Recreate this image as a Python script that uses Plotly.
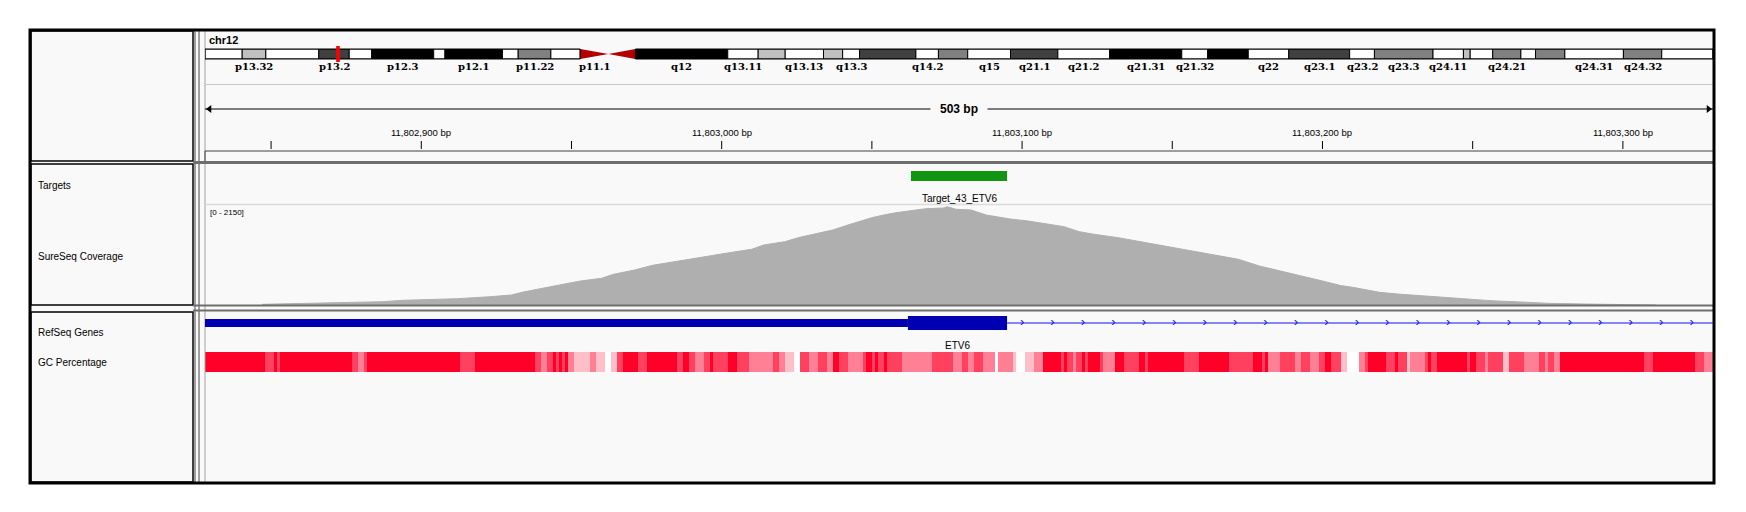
import numpy as np
import plotly.graph_objects as go

W, H = 1746, 512
# the page body keeps an 8 px margin round the figure
OFF = 8
FW, FH = W - 2 * OFF, H - 2 * OFF

# view window on chr12 (bp)
VIEW_START, VIEW_END = 11802828, 11803330
CHR_LEN = 133.851895  # Mb

# ── cytobands chr12 (Mb) ─────────────────────────────
BAND_START = [0, 3.3, 5.4, 10.1, 12.8, 14.8, 20.3, 21.3, 26.4, 27.8, 30.7, 33.3, 35.8,
              38.2, 46.4, 49.1, 51.5, 54.9, 56.6, 58.1, 63.1, 65.1, 67.7, 71.5, 75.7,
              80.3, 86.7, 89.0, 92.6, 96.2, 101.6, 103.8, 109.0, 111.7, 112.3, 114.3,
              116.8, 118.1, 120.7, 125.9, 129.3]
BAND_NAME = ["p13.33", "p13.32", "p13.31", "p13.2", "p13.1", "p12.3", "p12.2", "p12.1",
             "p11.23", "p11.22", "p11.21", "p11.1", "q11", "q12", "q13.11", "q13.12",
             "q13.13", "q13.2", "q13.3", "q14.1", "q14.2", "q14.3", "q15", "q21.1",
             "q21.2", "q21.31", "q21.32", "q21.33", "q22", "q23.1", "q23.2", "q23.3",
             "q24.11", "q24.12", "q24.13", "q24.21", "q24.22", "q24.23", "q24.31",
             "q24.32", "q24.33"]
BAND_STAIN = ["gneg", "gpos25", "gneg", "gpos75", "gneg", "gpos100", "gneg", "gpos100",
              "gneg", "gpos50", "gneg", "acen", "acen", "gpos100", "gneg", "gpos25",
              "gneg", "gpos25", "gneg", "gpos75", "gneg", "gpos50", "gneg", "gpos75",
              "gneg", "gpos100", "gneg", "gpos100", "gneg", "gpos75", "gneg", "gpos50",
              "gneg", "gpos25", "gneg", "gpos50", "gneg", "gpos50", "gneg", "gpos50",
              "gneg"]
SHOWN_LABELS = ["p13.32", "p13.2", "p12.3", "p12.1", "p11.22", "p11.1", "q12", "q13.11",
                "q13.13", "q13.3", "q14.2", "q15", "q21.1", "q21.2", "q21.31", "q21.32",
                "q22", "q23.1", "q23.2", "q23.3", "q24.11", "q24.21", "q24.31", "q24.32"]

# ── features ─────────────────────────────────────────
TARGET_NAME = "Target_43_ETV6"
TARGET_START, TARGET_END = 11803063, 11803095
GENE_NAME = "ETV6"
GENE_START, GENE_END = 11802700, 11803500
EXON_START, EXON_END = 11803062, 11803095

# ── coverage (offset from view start in bp, depth) ───
COV_MAX = 2150
COV_OFFSET = [19, 45, 59, 66, 77, 84, 95, 102, 106, 113,
              118, 125, 132, 136, 143, 149, 156, 163, 169, 176,
              182, 186, 193, 198, 204, 209, 214, 218, 222, 226,
              230, 235, 240, 246, 247, 250, 255, 260, 268, 274,
              279, 286, 291, 296, 304, 310, 316, 324, 330, 336,
              344, 351, 357, 365, 372, 378, 382, 391, 397, 405,
              410, 418, 428, 438, 447, 459, 483]
COV_DEPTH = [15, 43, 70, 100, 121, 134, 177, 213, 277, 356,
             426, 511, 568, 654, 745, 845, 922, 994, 1065, 1128,
             1186, 1277, 1348, 1441, 1526, 1597, 1703, 1788, 1859, 1916,
             1965, 2008, 2050, 2065, 2093, 2037, 2023, 1916, 1831, 1788,
             1739, 1667, 1561, 1505, 1433, 1363, 1292, 1207, 1135, 1065,
             973, 830, 745, 617, 511, 415, 377, 270, 234, 198,
             164, 128, 92, 64, 36, 21, 0]

# ── GC percentage shade (segment start offset, level 0..4) ──
GC_START = [0, 20, 23, 24, 25, 49, 51, 53, 54, 85,
            90, 110, 112, 114, 116, 117, 118, 119, 120, 121,
            123, 128, 130, 133, 135, 137, 139, 144, 147, 157,
            159, 161, 163, 166, 168, 169, 174, 177, 181, 189,
            191, 193, 196, 198, 201, 204, 207, 209, 211, 214,
            219, 220, 222, 223, 224, 226, 227, 232, 242, 249,
            252, 254, 256, 259, 263, 264, 269, 270, 273, 276,
            279, 285, 286, 287, 289, 290, 292, 293, 294, 298,
            299, 303, 306, 311, 313, 314, 326, 331, 341, 349,
            352, 353, 354, 358, 363, 365, 368, 371, 373, 375,
            378, 380, 384, 386, 387, 393, 396, 397, 400, 401,
            406, 407, 408, 410, 420, 421, 423, 426, 427, 432,
            434, 439, 444, 446, 447, 449, 451, 479, 482, 496,
            499]
GC_SHADE = [4, 3, 4, 3, 4, 3, 2, 3, 4, 3,
            4, 3, 2, 3, 4, 3, 4, 3, 4, 2,
            1, 2, 1, 0, 1, 3, 4, 3, 4, 3,
            4, 3, 2, 3, 4, 3, 4, 3, 2, 3,
            2, 1, 0, 3, 2, 3, 2, 4, 3, 2,
            3, 4, 3, 4, 3, 4, 3, 2, 3, 2,
            3, 2, 3, 2, 0, 2, 1, 0, 1, 2,
            4, 3, 4, 3, 2, 3, 4, 3, 4, 3,
            2, 4, 3, 4, 3, 4, 3, 4, 3, 4,
            3, 4, 2, 3, 2, 3, 2, 3, 4, 3,
            1, 0, 2, 3, 4, 3, 4, 3, 1, 2,
            3, 4, 3, 4, 3, 4, 3, 2, 3, 1,
            3, 2, 3, 2, 3, 2, 4, 3, 4, 3,
            2]

TRACK_NAMES = ["Targets", "SureSeq Coverage", "RefSeq Genes", "GC Percentage"]

STAIN_COLOR = {"gneg": "#FFFFFF", "gpos25": "#C0C0C0", "gpos50": "#808080",
               "gpos75": "#404040", "gpos100": "#000000"}
FONT = "Liberation Sans"

DX0, DX1 = 205, 1713  # data panel, screen px


def px(x):
    return (x - OFF) / FW


def py(y):
    return 1 - (y - OFF) / FH


fig = go.Figure()

# ── ideogram ─────────────────────────────────────────
band_end = BAND_START[1:] + [CHR_LEN]
idx = [i for i, s in enumerate(BAND_STAIN) if s != "acen"]
fig.add_trace(go.Bar(
    y=[0] * len(idx),
    x=[band_end[i] - BAND_START[i] for i in idx],
    base=[BAND_START[i] for i in idx],
    orientation="h", width=1, xaxis="x2", yaxis="y4",
    marker=dict(color=[STAIN_COLOR[BAND_STAIN[i]] for i in idx],
                line=dict(color="black", width=1)),
    hoverinfo="skip",
))
for i, s in enumerate(BAND_STAIN):
    if s != "acen":
        continue
    if BAND_NAME[i].startswith("p"):
        xs = [BAND_START[i], band_end[i], BAND_START[i], BAND_START[i]]
    else:
        xs = [band_end[i], BAND_START[i], band_end[i], band_end[i]]
    fig.add_trace(go.Scatter(x=xs, y=[0.5, 0, -0.5, 0.5], fill="toself",
                             fillcolor="#B40000", line=dict(width=0, color="#B40000"),
                             mode="lines", xaxis="x2", yaxis="y4", hoverinfo="skip"))

# ── coverage ─────────────────────────────────────────
fig.add_trace(go.Scatter(
    x=[VIEW_START + o for o in COV_OFFSET], y=COV_DEPTH,
    mode="lines", fill="tozeroy", fillcolor="#AFAFAF",
    line=dict(color="#AFAFAF", width=1),
    xaxis="x", yaxis="y2", hoverinfo="skip",
))

# ── GC percentage ────────────────────────────────────
gc_edges = [VIEW_START + o for o in GC_START] + [VIEW_END + 1]
fig.add_trace(go.Heatmap(
    x=gc_edges, y=[0, 1], z=[GC_SHADE],
    colorscale=[[0, "#FFFFFF"], [1, "#FF0028"]], zmin=0, zmax=4,
    showscale=False, xaxis="x", yaxis="y3", hoverinfo="skip",
))

# ── gene chevrons ────────────────────────────────────
exon_marks = np.arange(EXON_START + 10, EXON_END, 10)
intron_marks = np.arange(EXON_END + 5, min(GENE_END, VIEW_END), 10.13)
fig.add_trace(go.Scatter(x=exon_marks, y=[323] * len(exon_marks), mode="text",
                         text="›", textfont=dict(color="white", size=13, family=FONT),
                         xaxis="x", yaxis="y", hoverinfo="skip"))
fig.add_trace(go.Scatter(x=intron_marks, y=[323] * len(intron_marks), mode="text",
                         text="›", textfont=dict(color="#1010F0", size=13, family=FONT),
                         xaxis="x", yaxis="y", hoverinfo="skip"))

# ── ruler arrows ─────────────────────────────────────
fig.add_trace(go.Scatter(x=[VIEW_START + 1.5, VIEW_END - 1.5], y=[109, 109], mode="markers",
                         marker=dict(symbol=["triangle-left", "triangle-right"], size=7,
                                     color="black"),
                         xaxis="x", yaxis="y", hoverinfo="skip"))

shapes = []
annotations = []


def box(x0, y0, x1, y1, fill=None, line=None, lw=0, layer="above"):
    shapes.append(dict(type="rect", xref="paper", yref="y", x0=px(x0), x1=px(x1),
                       y0=y0, y1=y1, fillcolor=fill or "rgba(0,0,0,0)",
                       line=dict(color=line or "rgba(0,0,0,0)", width=lw), layer=layer))


def hline(x0, x1, y, color, lw, xref="paper"):
    if xref == "paper":
        x0, x1 = px(x0), px(x1)
    shapes.append(dict(type="line", xref=xref, yref="y", x0=x0, x1=x1, y0=y, y1=y,
                       line=dict(color=color, width=lw)))


def vline(x, y0, y1, color, lw):
    shapes.append(dict(type="line", xref="paper", yref="y", x0=px(x), x1=px(x),
                       y0=y0, y1=y1, line=dict(color=color, width=lw)))


# backgrounds and frames
box(30, 30, 1714, 483, fill="#F9F9F9", layer="below")
box(31, 31, 193, 161, line="black", lw=1.5)
box(31, 164, 193, 305, line="black", lw=1.5)
box(31, 312, 193, 482, line="black", lw=1.5)
vline(195, 31, 482, "#808080", 1.5)
vline(199, 31, 482, "#808080", 1.5)
vline(205, 31, 482, "#A0A0A0", 1)
hline(193, 1713, 162.5, "#6E6E6E", 3)
hline(193, 1713, 305.5, "#6E6E6E", 2)
hline(193, 1713, 310.5, "#6E6E6E", 2)
hline(205, 1713, 84.5, "#C8C8D2", 1.2)
hline(205, 1713, 151, "#404040", 1)
hline(205, 1713, 204.5, "#DCDCDC", 1.5)
box(30, 30, 1714, 483, line="black", lw=3)

# ideogram outline per arm and position marker
p_end = BAND_START[BAND_STAIN.index("acen")]
q_start = band_end[len(BAND_STAIN) - 1 - BAND_STAIN[::-1].index("acen")]
for a, b in [(0, p_end), (q_start, CHR_LEN)]:
    shapes.append(dict(type="rect", xref="x2", yref="y", x0=a, x1=b, y0=49, y1=59,
                       line=dict(color="black", width=1)))
mid_mb = (VIEW_START + VIEW_END) / 2 / 1e6
shapes.append(dict(type="rect", xref="x2", yref="y", x0=mid_mb - 0.16, x1=mid_mb + 0.16,
                   y0=46, y1=62, fillcolor="#FF0000", line=dict(width=0)))

for name in SHOWN_LABELS:
    i = BAND_NAME.index(name)
    annotations.append(dict(xref="x2", yref="y", x=(BAND_START[i] + band_end[i]) / 2, y=66,
                            text=f"<b>{name}</b>", showarrow=False,
                            font=dict(family="DejaVu Serif", size=10, color="black")))

annotations.append(dict(xref="paper", yref="y", x=px(207), y=40, xanchor="left",
                        text="<b>chr12</b>", showarrow=False,
                        font=dict(family=FONT, size=11, color="black")))

# ruler
center = (VIEW_START + VIEW_END) / 2
hline(VIEW_START, center - 9.5, 109, "black", 1, xref="x")
hline(center + 9.5, VIEW_END, 109, "black", 1, xref="x")
annotations.append(dict(xref="x", yref="y", x=center, y=109, showarrow=False,
                        text=f"<b>{VIEW_END - VIEW_START + 1} bp</b>",
                        font=dict(family=FONT, size=12, color="black")))
tick_vals = np.arange(np.ceil(VIEW_START / 50) * 50, VIEW_END + 1, 50)
for t in tick_vals:
    shapes.append(dict(type="line", xref="x", yref="y", x0=t, x1=t, y0=141, y1=149,
                       line=dict(color="black", width=1)))
    if t % 100 == 0:
        annotations.append(dict(xref="x", yref="y", x=t, y=132, showarrow=False,
                                text=f"{int(t):,} bp",
                                font=dict(family=FONT, size=9.5, color="black")))
vline(205, 151, 161, "#404040", 1)

# target feature
shapes.append(dict(type="rect", xref="x", yref="y", x0=TARGET_START, x1=TARGET_END,
                   y0=171, y1=181, fillcolor="#129612", line=dict(width=0)))
annotations.append(dict(xref="x", yref="y", x=(TARGET_START + TARGET_END) / 2, y=198,
                        text=TARGET_NAME, showarrow=False,
                        font=dict(family=FONT, size=10, color="black")))
annotations.append(dict(xref="paper", yref="y", x=px(208), y=212, xanchor="left",
                        text=f"[0 - {COV_MAX}]", showarrow=False,
                        font=dict(family=FONT, size=8, color="black")))

# gene
g0 = max(GENE_START, VIEW_START)
g1 = min(GENE_END, VIEW_END)
shapes.append(dict(type="line", xref="x", yref="y", x0=EXON_END, x1=g1, y0=323, y1=323,
                   line=dict(color="#1010F0", width=1)))
shapes.append(dict(type="rect", xref="x", yref="y", x0=g0, x1=EXON_START, y0=319, y1=327,
                   fillcolor="#0000B2", line=dict(width=0)))
shapes.append(dict(type="rect", xref="x", yref="y", x0=EXON_START, x1=EXON_END,
                   y0=316, y1=330, fillcolor="#0000B2", line=dict(width=0)))
annotations.append(dict(xref="x", yref="y", x=(EXON_START + EXON_END) / 2, y=345,
                        text=GENE_NAME, showarrow=False,
                        font=dict(family=FONT, size=10, color="black")))

# track names
for name, y in zip(TRACK_NAMES, [185, 256, 332, 362]):
    annotations.append(dict(xref="paper", yref="y", x=px(36), y=y, xanchor="left",
                            text=name, showarrow=False,
                            font=dict(family=FONT, size=10, color="black")))

dom = [px(DX0), px(DX1)]
fig.update_layout(
    width=FW, height=FH,
    margin=dict(l=0, r=0, t=0, b=0),
    paper_bgcolor="white", plot_bgcolor="rgba(0,0,0,0)",
    showlegend=False,
    shapes=shapes, annotations=annotations,
    xaxis=dict(domain=dom, range=[VIEW_START, VIEW_END], visible=False, anchor="y"),
    yaxis=dict(domain=[0, 1], range=[OFF + FH, OFF], visible=False),
    yaxis2=dict(domain=[py(305), py(204)], range=[0, COV_MAX], visible=False, anchor="x"),
    yaxis3=dict(domain=[py(372), py(352)], range=[0, 1], visible=False, anchor="x"),
    xaxis2=dict(domain=dom, range=[0, CHR_LEN], visible=False, anchor="y4"),
    yaxis4=dict(domain=[py(59), py(49)], range=[-0.5, 0.5], visible=False, anchor="x2"),
)

fig.write_html("out.html")
